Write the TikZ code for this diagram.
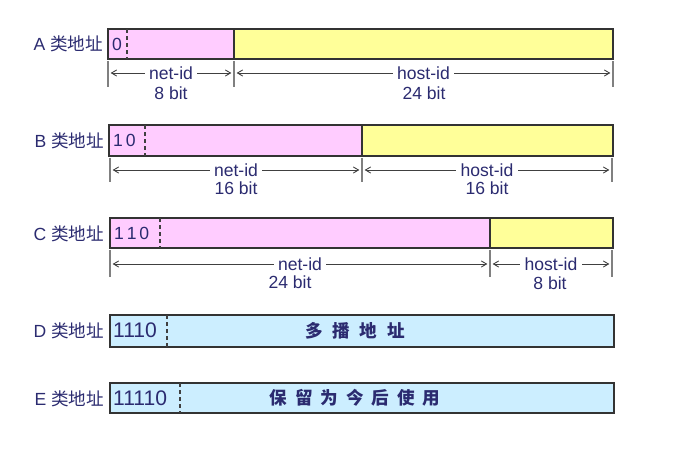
\documentclass[tikz,border=0pt]{standalone}
\usepackage{fontspec}
\setmainfont{Liberation Sans}
\newfontfamily\cjk{Noto Sans CJK SC}
\usetikzlibrary{arrows.meta}
\definecolor{ink}{HTML}{2B2B70}
\definecolor{netpink}{HTML}{FFCCFF}
\definecolor{hostyellow}{HTML}{FFFF99}
\definecolor{resblue}{HTML}{CCEEFF}

\begin{document}
\begin{tikzpicture}[
  x=0.02cm, y=-0.02cm,
  >={Straight Barb[length=3pt, width=3.5pt]},
  field/.style={draw=black!80, line width=1.1pt},
  split/.style={draw=black!75, dashed, dash pattern=on 2.5pt off 1.5pt, line width=0.6pt},
  tick/.style={draw=gray, line width=0.8pt},
  dim/.style={draw=black!75, line width=0.5pt, <->, shorten <=1.5pt, shorten >=1.5pt},
  cls/.style={anchor=east, text=ink, inner sep=1pt, font=\fontsize{10}{12}\selectfont},
  bits/.style={anchor=west, text=ink, inner sep=1pt, font=\fontsize{10}{12}\selectfont},
  bigbits/.style={bits, font=\fontsize{12}{14}\selectfont},
  lbl/.style={fill=white, inner sep=2.5pt, text=ink, font=\fontsize{10}{12}\selectfont},
  note/.style={text=ink, font=\cjk\bfseries\fontsize{10}{12}\selectfont}
]
\useasboundingbox (0,0) rectangle (677,456);

% A
\node[cls] (clsA) at (105,44) {A {\cjk 类地址}};
\draw[field, fill=netpink] (108,29) rectangle (234,59);
\draw[field, fill=hostyellow] (234,29) rectangle (613,59);
\draw[split] (127,29) -- (127,59);
\node[bits] (bitsA) at (110,44) {0};
\coordinate (a0) at (108,73);
\coordinate (a1) at (234,73);
\coordinate (a2) at (613,73);
\foreach \t in {108,234,613} \draw[tick] (\t,61) -- (\t,87);
\draw[dim] (a0) -- node[lbl] (netA) {net-id} (a1);
\draw[dim] (a1) -- node[lbl] (hostA) {host-id} (a2);
\node[lbl, fill=none] (netbA) at (171,93) {8 bit};
\node[lbl, fill=none] (hostbA) at (424,93) {24 bit};

% B
\node[cls] (clsB) at (106,141) {B {\cjk 类地址}};
\draw[field, fill=netpink] (109,125) rectangle (362,156);
\draw[field, fill=hostyellow] (362,125) rectangle (613,156);
\draw[split] (145,125) -- (145,156);
\node[bits] (bitsB) at (111,140) {1\,0};
\coordinate (b0) at (110,170);
\coordinate (b1) at (362,170);
\coordinate (b2) at (612,170);
\foreach \t in {110,362,612} \draw[tick] (\t,158) -- (\t,182);
\draw[dim] (b0) -- node[lbl] (netB) {net-id} (b1);
\draw[dim] (b1) -- node[lbl] (hostB) {host-id} (b2);
\node[lbl, fill=none] (netbB) at (236,188) {16 bit};
\node[lbl, fill=none] (hostbB) at (487,188) {16 bit};

% C
\node[cls] (clsC) at (106,234) {C {\cjk 类地址}};
\draw[field, fill=netpink] (110,218) rectangle (490,248);
\draw[field, fill=hostyellow] (490,218) rectangle (613,248);
\draw[split] (160,218) -- (160,248);
\node[bits] (bitsC) at (112,233) {1\,1\,0};
\coordinate (c0) at (110,264);
\coordinate (c1) at (490,264);
\coordinate (c2) at (612,264);
\foreach \t in {110,490,612} \draw[tick] (\t,250) -- (\t,277);
\draw[dim] (c0) -- node[lbl] (netC) {net-id} (c1);
\draw[dim] (c1) -- node[lbl] (hostC) {host-id} (c2);
\node[lbl, fill=none] (netbC) at (290,282) {24 bit};
\node[lbl, fill=none] (hostbC) at (550,283) {8 bit};

% D
\node[cls] (clsD) at (106,331) {D {\cjk 类地址}};
\draw[field, fill=resblue] (110,315) rectangle (614,347);
\draw[split] (167,315) -- (167,347);
\node[bigbits] (bitsD) at (111,330) {1110};
\node[note] (noteD) at (355,331) {多\hspace{0.55em}播\hspace{0.55em}地\hspace{0.55em}址};

% E
\node[cls] (clsE) at (106,399) {E {\cjk 类地址}};
\draw[field, fill=resblue] (110,383) rectangle (614,413);
\draw[split] (180,383) -- (180,413);
\node[bigbits] (bitsE) at (111,398) {11110};
\node[note] (noteE) at (355,398) {保\hspace{0.45em}留\hspace{0.45em}为\hspace{0.45em}今\hspace{0.45em}后\hspace{0.45em}使\hspace{0.45em}用};
\end{tikzpicture}
\end{document}
